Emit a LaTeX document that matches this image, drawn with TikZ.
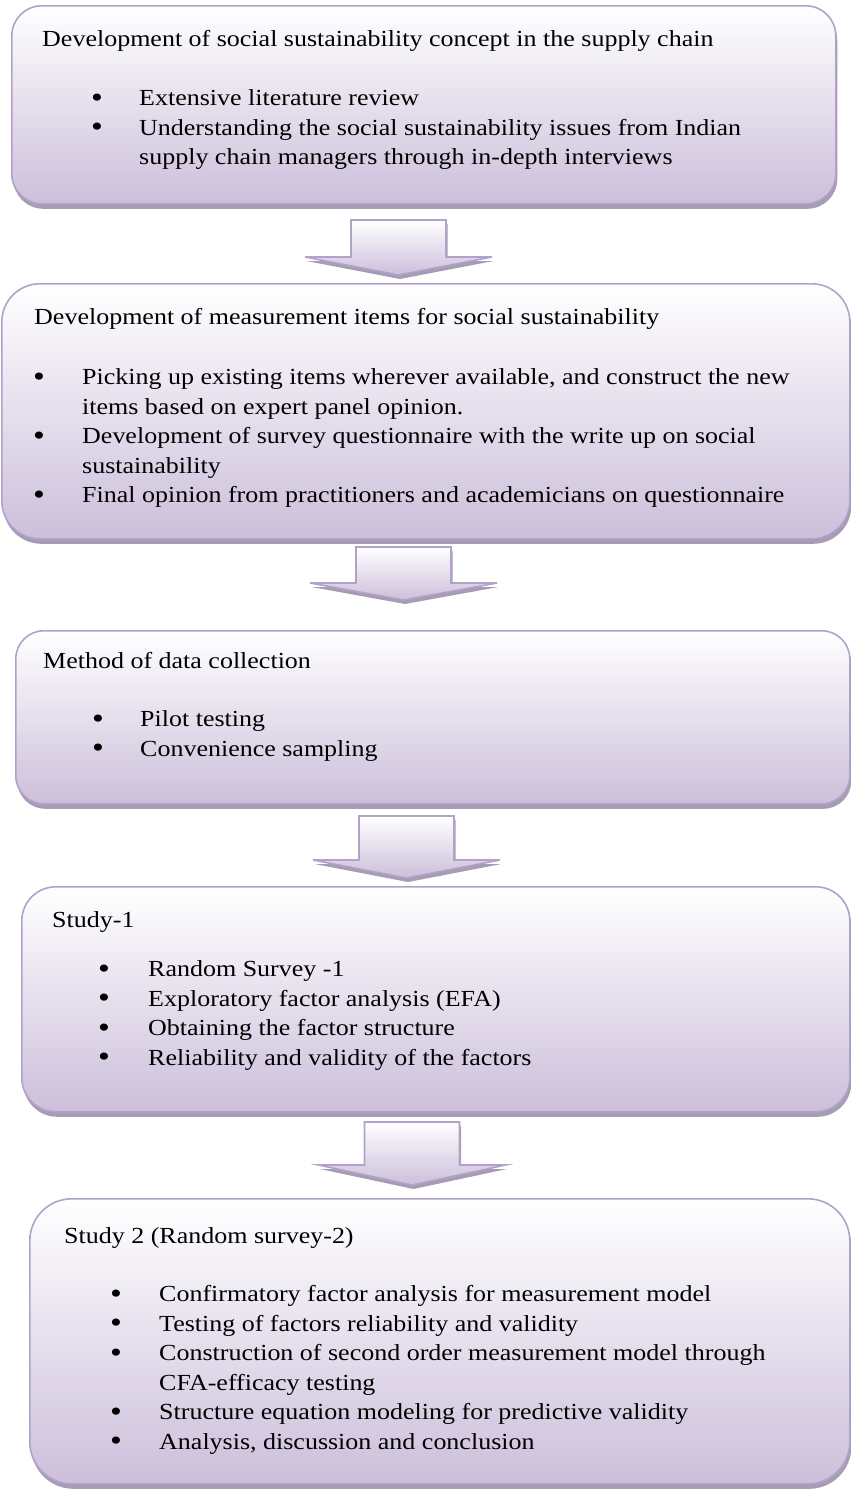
\documentclass[tikz,border=0pt]{standalone}
\usepackage{fontspec}
\setmainfont[FakeStretch=1.13]{Liberation Serif}
\usepackage{tikz}
\usetikzlibrary{shadows}

\definecolor{lavfill}{RGB}{204,191,219}
\definecolor{lavline}{RGB}{178,162,201}
\definecolor{lavshadow}{RGB}{166,156,180}

\newcommand{\blt}{\raisebox{-1.5pt}{\scalebox{1.3}{\textbullet}}}

\begin{document}
\begin{tikzpicture}[x=1pt, y=-1pt, font=\fontsize{23}{29.5}\selectfont]
\tikzstyle{stage} = [rectangle, draw=lavline, line width=1.6pt, top color=white, bottom color=lavfill, anchor=north west, inner sep=0pt, drop shadow={shadow xshift=1.5pt, shadow yshift=-5pt, fill=lavshadow, opacity=1}]
\tikzstyle{blockarrow} = [draw=lavline, line width=1.6pt, top color=white, bottom color=lavfill, drop shadow={shadow xshift=1.5pt, shadow yshift=-4pt, fill=lavshadow, opacity=1}]
\tikzstyle{title} = [anchor=mid west, inner sep=0pt]
\tikzstyle{items} = [anchor=north west, inner sep=0pt]

\useasboundingbox (0,0) rectangle (851,1491);

% the five stages
\node (dev)    [stage, minimum width=824pt, minimum height=198pt, rounded corners=30pt] at (11,5) {};
\node (items)  [stage, minimum width=848pt, minimum height=255pt, rounded corners=38pt] at (1,283) {};
\node (method) [stage, minimum width=834pt, minimum height=173pt, rounded corners=28pt] at (15,630) {};
\node (study1) [stage, minimum width=828pt, minimum height=225pt, rounded corners=34pt] at (21,886) {};
\node (study2) [stage, minimum width=820pt, minimum height=285pt, rounded corners=42pt] at (29,1198) {};

% block arrows between the stages
\foreach \cx/\ty/\hy/\tip in {398.5/220/257/275, 403.5/547/583/600, 406.5/816/860/878, 412/1122/1165/1185}
  \draw [blockarrow] (\cx-47.5,\ty) -- (\cx+47.5,\ty) -- (\cx+47.5,\hy) -- (\cx+93.5,\hy) -- (\cx,\tip) -- (\cx-93.5,\hy) -- (\cx-47.5,\hy) -- cycle;

% texts
\node (devtitle) [title] at (42,44) {Development of social sustainability concept in the supply chain};
\node (devlist) [items] at (91,85) {\begin{tabular}{@{}p{48pt}@{}l@{}}
\blt & Extensive literature review\\
\blt & Understanding the social sustainability issues from Indian\\
 & supply chain managers through in-depth interviews
\end{tabular}};

\node (itemstitle) [title] at (34,322) {Development of measurement items for social sustainability};
\node (itemslist) [items] at (33,364) {\begin{tabular}{@{}p{49pt}@{}l@{}}
\blt & Picking up existing items wherever available, and construct the new\\
 & items based on expert panel opinion.\\
\blt & Development of survey questionnaire with the write up on social\\
 & sustainability\\
\blt & Final opinion from practitioners and academicians on questionnaire
\end{tabular}};

\node (methodtitle) [title] at (43,666) {Method of data collection};
\node (methodlist) [items] at (92,706) {\begin{tabular}{@{}p{48pt}@{}l@{}}
\blt & Pilot testing\\
\blt & Convenience sampling
\end{tabular}};

\node (study1title) [title] at (52,925) {Study-1};
\node (study1list) [items] at (98,956) {\begin{tabular}{@{}p{50pt}@{}l@{}}
\blt & Random Survey -1\\
\blt & Exploratory factor analysis (EFA)\\
\blt & Obtaining the factor structure\\
\blt & Reliability and validity of the factors
\end{tabular}};

\node (study2title) [title] at (64,1241) {Study 2 (Random survey-2)};
\node (study2list) [items] at (110,1281) {\begin{tabular}{@{}p{49pt}@{}l@{}}
\blt & Confirmatory factor analysis for measurement model\\
\blt & Testing of factors reliability and validity\\
\blt & Construction of second order measurement model through\\
 & CFA-efficacy testing\\
\blt & Structure equation modeling for predictive validity\\
\blt & Analysis, discussion and conclusion
\end{tabular}};

\end{tikzpicture}
\end{document}
